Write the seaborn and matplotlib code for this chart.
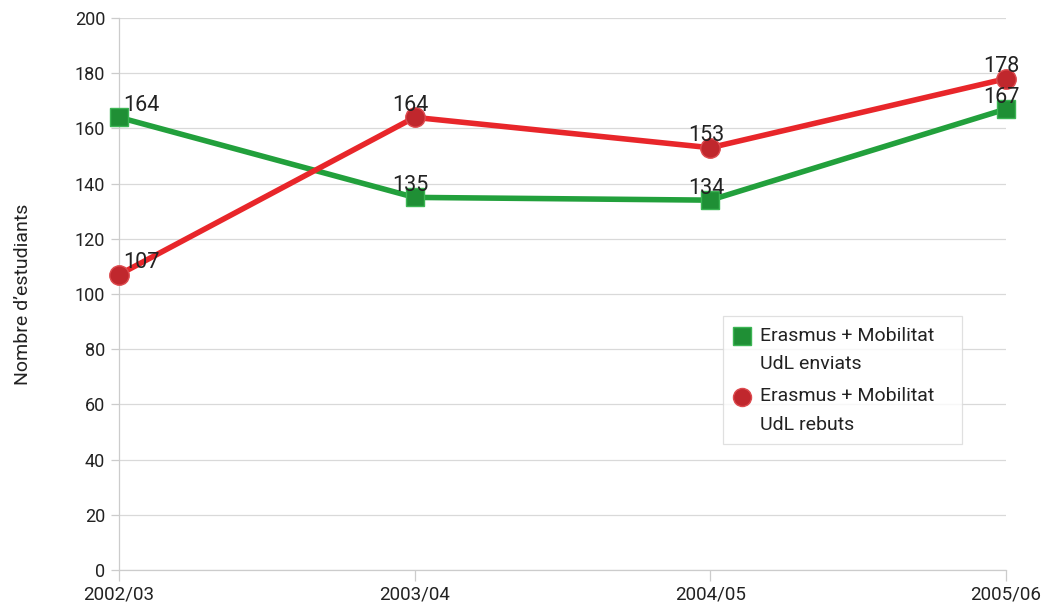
import matplotlib
matplotlib.use("Agg")
import matplotlib.pyplot as plt
import seaborn as sns
import pandas as pd
import numpy as np
from matplotlib.lines import Line2D
from matplotlib.legend_handler import HandlerLine2D

years = ["2002/03", "2003/04", "2004/05", "2005/06"]
enviats = [164, 135, 134, 167]
rebuts = [107, 164, 153, 178]
label_enviats = "Erasmus + Mobilitat\nUdL enviats"
label_rebuts = "Erasmus + Mobilitat\nUdL rebuts"
yticks = list(range(0, 201, 20))

sns.set_theme(style="white")
plt.rcParams['font.family'] = ['Roboto', 'DejaVu Sans']

green = "#22a03c"
red = "#e8262a"
green_m = "#1f8f35"
red_m = "#c0272d"

fig = plt.figure(figsize=(10.41, 6.10), dpi=100)
ax = fig.add_axes([0.1143, 0.0656, 0.8520, 0.9049])

df = pd.DataFrame({"year": years, "enviats": enviats, "rebuts": rebuts})

sns.lineplot(data=df, x="year", y="enviats", sort=False, ax=ax, color=green,
             linewidth=4.0, marker="s", markersize=13, markerfacecolor=green_m,
             markeredgecolor="#3cb554", markeredgewidth=1.0, zorder=3, clip_on=False)
sns.lineplot(data=df, x="year", y="rebuts", sort=False, ax=ax, color=red,
             linewidth=4.0, marker="o", markersize=14, markerfacecolor=red_m,
             markeredgecolor="#dd4a4e", markeredgewidth=1.0, zorder=4, clip_on=False)

for series in (enviats, rebuts):
    for i, v in enumerate(series):
        if i == 0:
            ax.annotate(str(v), (i, v), xytext=(3, 1), textcoords="offset points",
                        fontsize=15.5, color="#222222", ha="left", va="bottom", zorder=5)
        else:
            ax.annotate(str(v), (i, v), xytext=(-3, 1), textcoords="offset points",
                        fontsize=15.5, color="#222222", ha="center", va="bottom", zorder=5)

ax.set_ylim(0, 200)
ax.set_xlim(0, 3)
ax.set_yticks(yticks)
ax.set_yticklabels([str(t) for t in yticks])
ax.set_xticks(range(len(years)))
ax.set_xticklabels(years)
ax.grid(axis="y", color="#d9d9d9", linewidth=0.9)
ax.grid(axis="x", visible=False)
ax.set_axisbelow(True)

for s in ["top", "right"]:
    ax.spines[s].set_visible(False)
for s in ["left", "bottom"]:
    ax.spines[s].set_color("#cccccc")
    ax.spines[s].set_linewidth(0.9)

ax.tick_params(axis="y", which="both", left=True, length=6, width=0.9,
               color="#cccccc", labelsize=13, labelcolor="#222222", pad=4)
ax.tick_params(axis="x", which="both", bottom=True, length=8, width=0.9,
               color="#cccccc", labelsize=13.5, labelcolor="#222222", pad=3)

ax.set_xlabel("")
ax.set_ylabel("Nombre d\u2019estudiants", fontsize=14, color="#222222", labelpad=31)


class TopLineHandler(HandlerLine2D):
    shift = 10.0

    def create_artists(self, legend, orig_handle, xdescent, ydescent, width,
                       height, fontsize, trans):
        arts = super().create_artists(legend, orig_handle, xdescent, ydescent,
                                      width, height, fontsize, trans)
        for a in arts:
            a.set_ydata(np.asarray(a.get_ydata()) + self.shift)
        return arts


handles = [
    Line2D([0], [0], linestyle="none", marker="s", markersize=13,
           markerfacecolor=green_m, markeredgecolor="#3cb554"),
    Line2D([0], [0], linestyle="none", marker="o", markersize=13,
           markerfacecolor=red_m, markeredgecolor="#dd4a4e"),
]
lw = (962 - 723) / 887.0
leg = ax.legend(handles, [label_enviats, label_rebuts], loc="upper left",
                bbox_to_anchor=(0.681, 0.16, lw, 0.30), mode="expand",
                frameon=True, fancybox=False,
                fontsize=14, handlelength=0.9, handletextpad=0.45,
                labelspacing=0.75, borderpad=0.55, borderaxespad=0,
                handler_map={Line2D: TopLineHandler()})
leg.get_frame().set_edgecolor("#d9d9d9")
leg.get_frame().set_linewidth(0.9)
for t in leg.get_texts():
    t.set_color("#222222")
    t.set_linespacing(1.72)

fig.savefig("out.png", dpi=100)
